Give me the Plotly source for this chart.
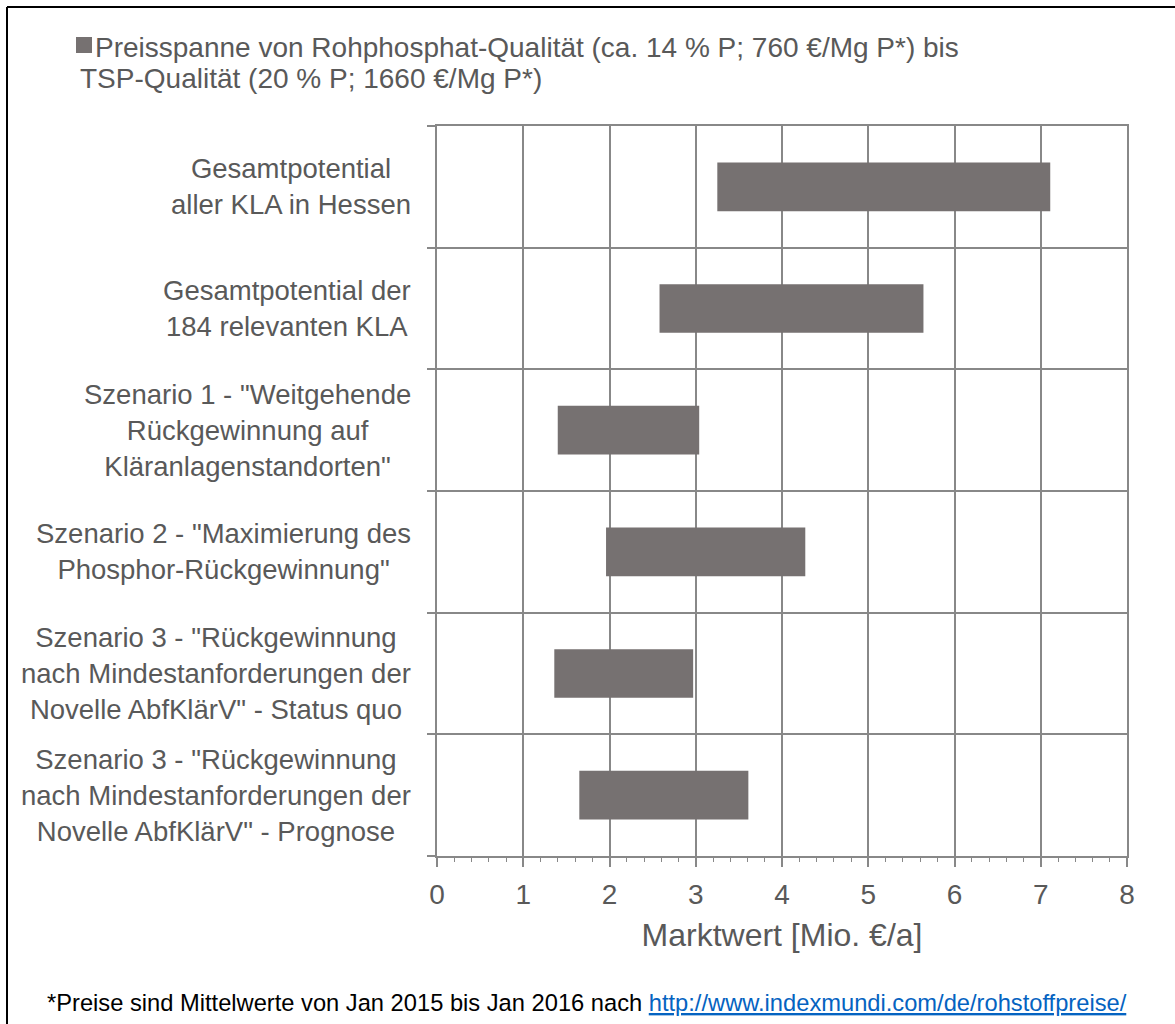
import plotly.graph_objects as go

# --- data -------------------------------------------------------------
categories = [
    'Gesamtpotential<br>aller KLA in Hessen',
    'Gesamtpotential der<br>184 relevanten KLA',
    'Szenario 1 - "Weitgehende<br>Rückgewinnung auf<br>Kläranlagenstandorten"',
    'Szenario 2 - "Maximierung des<br>Phosphor-Rückgewinnung"',
    'Szenario 3 - "Rückgewinnung<br>nach Mindestanforderungen der<br>Novelle AbfKlärV" - Status quo',
    'Szenario 3 - "Rückgewinnung<br>nach Mindestanforderungen der<br>Novelle AbfKlärV" - Prognose',
]
# market value range in Mio. EUR/a: raw phosphate quality (low) to TSP quality (high)
value_low = [3.25, 2.58, 1.40, 1.96, 1.36, 1.65]
value_high = [7.11, 5.64, 3.04, 4.27, 2.97, 3.61]

x_ticks = [0, 1, 2, 3, 4, 5, 6, 7, 8]

legend_line1 = "Preisspanne von Rohphosphat-Qualität (ca. 14 % P; 760 €/Mg P*) bis"
legend_line2 = "TSP-Qualität (20 % P; 1660 €/Mg P*)"
x_title = "Marktwert [Mio. €/a]"
footnote = "*Preise sind Mittelwerte von Jan 2015 bis Jan 2016 nach "
footnote_url = "http://www.indexmundi.com/de/rohstoffpreise/"

# --- style ------------------------------------------------------------
W, H = 1175, 1024
ML, MR, MT, MB = 437, 48, 126, 168
PW, PH = W - ML - MR, H - MT - MB
BAR = "#767171"
GRID = "#888888"
TXT = "#595959"
FONT = "Liberation Sans, Arial, sans-serif"


def px_x(px):
    return (px - ML) / PW


def px_y(py):
    return (H - MB - py) / PH


cat_ids = list(range(len(categories)))

fig = go.Figure()
fig.add_trace(go.Bar(
    y=cat_ids,
    x=[h - l for l, h in zip(value_low, value_high)],
    base=value_low,
    orientation="h",
    width=0.4,
    marker=dict(color=BAR, line=dict(width=0)),
    showlegend=False,
))

fig.update_layout(
    width=W, height=H,
    margin=dict(l=ML, r=MR, t=MT, b=MB, pad=0),
    paper_bgcolor="white", plot_bgcolor="white",
    font=dict(family=FONT, color=TXT, size=27),
    bargap=0.6,
)

fig.update_xaxes(
    range=[0, 8], tickvals=x_ticks, ticktext=[str(v) for v in x_ticks],
    showgrid=True, gridcolor=GRID, gridwidth=1.5,
    zeroline=False,
    showline=True, linecolor=GRID, linewidth=1.5, mirror=True,
    ticks="outside", ticklen=9, tickcolor=GRID, tickwidth=1.5,
    minor=dict(dtick=0.2, ticks="outside", ticklen=4, tickcolor=GRID, tickwidth=1, showgrid=False),
    tickfont=dict(size=28, color=TXT),
    ticklabelstandoff=4,
    title=dict(text=x_title, font=dict(size=32, color=TXT), standoff=14),
)

fig.update_yaxes(
    type="linear", range=[len(categories) - 0.5, -0.5],
    tickvals=[i - 0.5 for i in range(len(categories) + 1)],
    showticklabels=False,
    showgrid=True, gridcolor=GRID, gridwidth=1.5,
    zeroline=False,
    showline=True, linecolor=GRID, linewidth=1.5, mirror=True,
    ticks="outside", ticklen=8, tickcolor=GRID, tickwidth=1.5,
)

annotations = []
# category labels, centred lines, block right-aligned beside the axis
for i, lab in enumerate(categories):
    annotations.append(dict(
        text=lab, x=0, xref="paper", xanchor="right", xshift=-24,
        y=i, yref="y", yanchor="middle", align="center",
        showarrow=False, font=dict(size=27.5, color=TXT),
    ))

# legend text
annotations.append(dict(
    text=legend_line1, x=px_x(93), xref="paper", xanchor="left",
    y=px_y(47), yref="paper", yanchor="middle", align="left",
    showarrow=False, font=dict(size=28, color=TXT),
))
annotations.append(dict(
    text=legend_line2, x=px_x(78), xref="paper", xanchor="left",
    y=px_y(78), yref="paper", yanchor="middle", align="left",
    showarrow=False, font=dict(size=28, color=TXT),
))

# footnote with source link
annotations.append(dict(
    text=footnote + "<span style='color:#0563C1'><u>" + footnote_url + "</u></span>",
    x=px_x(45), xref="paper", xanchor="left",
    y=px_y(1003), yref="paper", yanchor="middle", align="left",
    showarrow=False, font=dict(size=23.7, color="#000000", family=FONT),
))

shapes = [
    # legend swatch
    dict(type="rect", xref="paper", yref="paper",
         x0=px_x(76), x1=px_x(92), y0=px_y(53), y1=px_y(37),
         fillcolor=BAR, line=dict(width=0)),
    # outer frame (left and top edges)
    dict(type="line", xref="paper", yref="paper",
         x0=px_x(7), x1=px_x(7), y0=px_y(7), y1=px_y(H + 10),
         line=dict(color="#000000", width=2)),
    dict(type="line", xref="paper", yref="paper",
         x0=px_x(7), x1=px_x(W + 10), y0=px_y(7), y1=px_y(7),
         line=dict(color="#000000", width=2)),
]

fig.update_layout(annotations=annotations, shapes=shapes)

fig.write_html("out.html")
